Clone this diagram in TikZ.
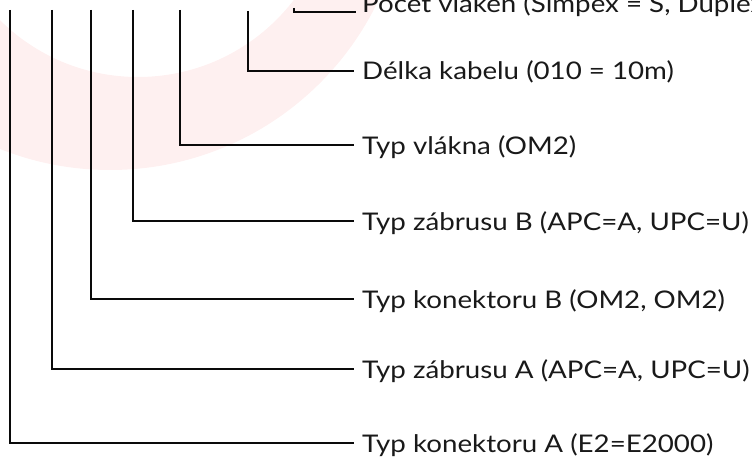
\documentclass[tikz,border=0pt]{standalone}
\usepackage{fontspec}
\setmainfont{Lato}[FakeStretch=1.14]
\definecolor{ringpink}{RGB}{254,240,240}
\definecolor{linecol}{RGB}{10,10,10}
\definecolor{txtcol}{RGB}{25,25,25}
\tikzset{
  conn/.style={draw=linecol, line width=2pt, line join=miter, line cap=butt},
  lbl/.style={anchor=base west, inner sep=0pt, text=txtcol, font=\fontsize{24.3}{28}\selectfont}
}
\begin{document}
\begin{tikzpicture}[x=1pt,y=-1pt]
\useasboundingbox (0,0) rectangle (752,460);
\clip (0,0) rectangle (752,460);
% background ring
\fill[ringpink, even odd rule] (110,-127) circle[radius=297] (138,-119) circle[radius=196];
% start points
\coordinate (s1) at (10,10);
\coordinate (s2) at (52,10);
\coordinate (s3) at (91,10);
\coordinate (s4) at (133,10);
\coordinate (s5) at (180,10);
\coordinate (s6) at (248,11);
\coordinate (s7) at (294,8);
% end points
\coordinate (e1) at (354,443);
\coordinate (e2) at (354,369);
\coordinate (e3) at (354,299);
\coordinate (e4) at (354,221);
\coordinate (e5) at (354,145);
\coordinate (e6) at (354,71);
\coordinate (e7) at (356,12);
% labels
\node[lbl] (t1) at (362,452) {Typ konektoru A (E2=E2000)};
\node[lbl] (t2) at (362,378) {Typ zábrusu A (APC=A, UPC=U)};
\node[lbl] (t3) at (362,308) {Typ konektoru B (OM2, OM2)};
\node[lbl] (t4) at (362,230) {Typ zábrusu B (APC=A, UPC=U)};
\node[lbl] (t5) at (362,154) {Typ vlákna (OM2)};
\node[lbl] (t6) at (362,80) {Délka kabelu (010 = 10m)};
\node[lbl] (t7) at (362,13) {Počet vláken (Simpex = S, Duplex = D)};
% connectors
\draw[conn] (s1) |- (e1);
\draw[conn] (s2) |- (e2);
\draw[conn] (s3) |- (e3);
\draw[conn] (s4) |- (e4);
\draw[conn] (s5) |- (e5);
\draw[conn] (s6) |- (e6);
\draw[conn] (s7) |- (e7);
\end{tikzpicture}
\end{document}
